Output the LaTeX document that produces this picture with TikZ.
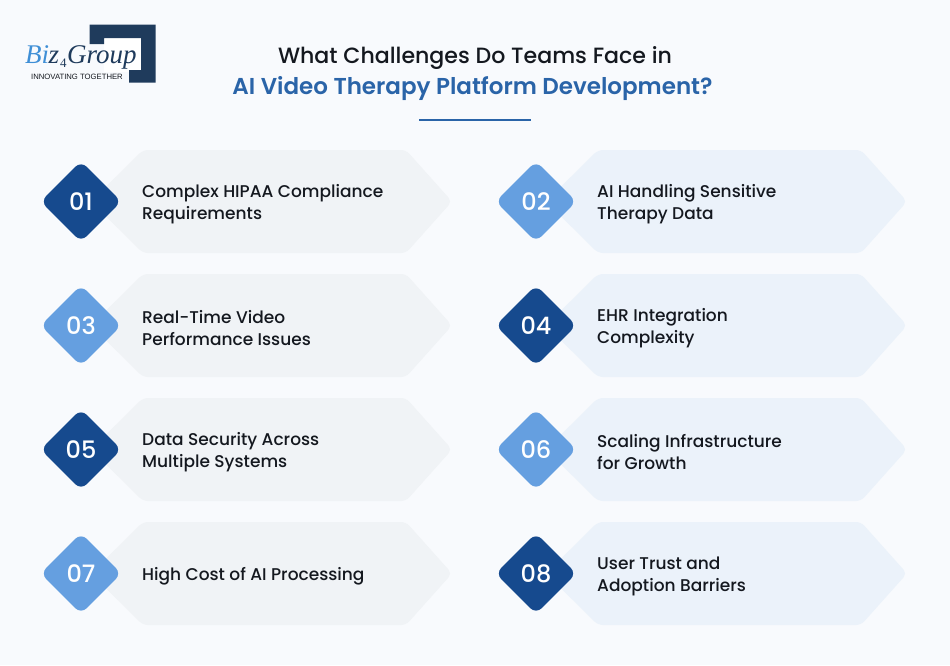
\documentclass[tikz,border=0pt]{standalone}
\usepackage{fontspec}
\usetikzlibrary{shapes.geometric}
\setmainfont{Poppins}[UprightFont=* Medium,BoldFont=* SemiBold]
\newfontfamily\logoserif{Liberation Serif}
\newfontfamily\logosans{Liberation Sans}
\definecolor{pagebg}{HTML}{F8FAFD}
\definecolor{hexgray}{HTML}{F0F3F6}
\definecolor{hexblue}{HTML}{EBF2FA}
\definecolor{dkblue}{HTML}{164A8E}
\definecolor{ltblue}{HTML}{659FE0}
\definecolor{inkc}{HTML}{14181F}
\definecolor{titleblue}{HTML}{2A64A8}
\definecolor{logodark}{HTML}{1F3B5C}
\definecolor{logoblue}{HTML}{3F8FD6}
\tikzset{x=1pt,y=-1pt,
 numbox/.style={diamond,aspect=1,minimum width=81pt,minimum height=81pt,inner sep=-12pt,rounded corners=8pt,text=white,font=\fontsize{24}{24}\selectfont},
 itemtext/.style={anchor=west,align=left,text=inkc,inner sep=0pt,font=\fontsize{17}{22}\selectfont},
 titletext/.style={inner sep=0pt,font=\fontsize{22.1}{26}\selectfont},
 logotext/.style={inner sep=0pt,anchor=base west,font=\logoserif\itshape\fontsize{27}{27}\selectfont}}
\newcommand{\itemrow}[7]{%
 \fill[#4,rounded corners=5pt] (#2+10,#3) -- (#2+62,#3-51.5) -- (#2+325,#3-51.5) -- (#2+371,#3) -- (#2+325,#3+51.5) -- (#2+62,#3+51.5) -- cycle;
 \node[numbox,fill=#5] (num#1) at (#2,#3) {#6};
 \node[itemtext] (txt#1) at (#2+61,#3+3) {#7};
}
\begin{document}
\begin{tikzpicture}
\useasboundingbox (0,0) rectangle (950,665);
\fill[pagebg] (0,0) rectangle (950,665);
% logo
\fill[white] (104,38) rectangle (141,72);
\fill[logodark] (89.5,24.5) -- (155.5,24.5) -- (155.5,82.5) -- (129,82.5) -- (129,70) -- (141,70) -- (141,38) -- (104,38) -- (104,44) -- (89.5,44) -- cycle;
\node[logotext,text=logoblue] (logoa) at (25,63) {Bi};
\node[logotext,text=logodark] (logoc) at (48.5,63) {z};
\node[logotext,text=logodark,font=\logoserif\fontsize{13}{13}\selectfont] (logod) at (60,67) {4};
\node[logotext,text=logodark] (logoe) at (67,63) {Group};
\node[inner sep=0pt,anchor=west] (logob) at (31,76.5) {\logosans\fontsize{7.7}{8}\selectfont\textcolor{inkc}{INNOVATING TOGETHER}};
% title
\node[titletext,text=inkc] (t1) at (475,58) {What Challenges Do Teams Face in};
\node[titletext,text=titleblue,font=\fontsize{23}{26}\selectfont\bfseries] (t2) at (472.5,89) {AI Video Therapy Platform Development?};
\coordinate (ra) at (419,120); \coordinate (rb) at (531,120);
\draw[titleblue,line width=1.5pt] (ra) -- (rb);
\itemrow{1}{81}{201.5}{hexgray}{dkblue}{01}{Complex HIPAA Compliance\\Requirements}
\itemrow{2}{536}{201.5}{hexblue}{ltblue}{02}{AI Handling Sensitive\\Therapy Data}
\itemrow{3}{81}{325.5}{hexgray}{ltblue}{03}{Real-Time Video\\Performance Issues}
\itemrow{4}{536}{325.5}{hexblue}{dkblue}{04}{EHR Integration\\Complexity}
\itemrow{5}{81}{449.5}{hexgray}{dkblue}{05}{Data Security Across\\Multiple Systems}
\itemrow{6}{536}{449.5}{hexblue}{ltblue}{06}{Scaling Infrastructure\\for Growth}
\itemrow{7}{81}{573.5}{hexgray}{ltblue}{07}{High Cost of AI Processing}
\itemrow{8}{536}{573.5}{hexblue}{dkblue}{08}{User Trust and\\Adoption Barriers}
\end{tikzpicture}
\end{document}
